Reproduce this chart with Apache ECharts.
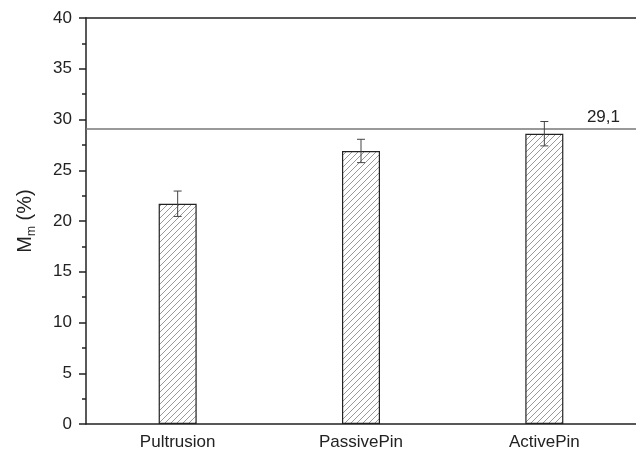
<!DOCTYPE html>
<html>
<head>
<meta charset="utf-8">
<script src="https://cdn.jsdelivr.net/npm/echarts@6/dist/echarts.min.js"></script>
<style>html,body{margin:0;padding:0;background:#fff}#c{width:636px;height:454px}</style>
</head>
<body>
<div id="c"></div>
<script>
var categories = ['Pultrusion', 'PassivePin', 'ActivePin'];
var values = [21.7, 26.9, 28.6];
var errors = [1.25, 1.15, 1.2];
var refValue = 29.1;
var refLabel = '29,1';
var yTicks = [0, 5, 10, 15, 20, 25, 30, 35, 40];

// hatch pattern
var pc = document.createElement('canvas');
var s = 6;
pc.width = s; pc.height = s;
var g = pc.getContext('2d');
g.fillStyle = '#fff'; g.fillRect(0, 0, s, s);
g.strokeStyle = '#999'; g.lineWidth = 1;
g.beginPath();
g.moveTo(-1, s + 1); g.lineTo(s + 1, -1);
g.moveTo(-1, 1); g.lineTo(1, -1);
g.moveTo(s - 1, s + 1); g.lineTo(s + 1, s - 1);
g.stroke();

var chart = echarts.init(document.getElementById('c'));
var font = 'Arial, "Liberation Sans", sans-serif';
chart.setOption({
  animation: false,
  textStyle: {fontFamily: font},
  grid: {left: 86, right: -2, top: 18, bottom: 30},
  xAxis: [{
    type: 'category', data: categories, position: 'bottom',
    axisLine: {lineStyle: {color: '#222', width: 1.5}},
    axisTick: {alignWithLabel: true, length: 7, lineStyle: {color: '#222', width: 1.5}},
    axisLabel: {color: '#222', fontSize: 17, margin: 10, fontFamily: font}
  }, {
    type: 'category', data: categories, position: 'bottom', gridIndex: 0,
    axisLine: {show: false},
    axisTick: {length: 4, lineStyle: {color: '#222', width: 1.5}},
    axisLabel: {show: false}
  }, {
    type: 'category', data: categories, position: 'top',
    axisLine: {lineStyle: {color: '#222', width: 1.5}},
    axisTick: {show: false}, axisLabel: {show: false}
  }],
  yAxis: {
    type: 'value', min: yTicks[0], max: yTicks[yTicks.length - 1], interval: 5,
    axisLine: {show: true, lineStyle: {color: '#222', width: 1.5}},
    axisTick: {show: true, length: 7, lineStyle: {color: '#222', width: 1.5}},
    minorTick: {show: true, splitNumber: 2, length: 4, lineStyle: {color: '#222', width: 1.5}},
    splitLine: {show: false},
    axisLabel: {color: '#222', fontSize: 17, margin: 14, fontFamily: font},
    name: '{a|M}{b|m}{a| (%)}',
    nameLocation: 'middle', nameRotate: 90, nameGap: 48,
    nameTextStyle: {
      rich: {
        a: {fontSize: 20, color: '#222', fontFamily: font},
        b: {fontSize: 12, color: '#222', fontFamily: font, verticalAlign: 'bottom', padding: [14, 0, 0, 0]}
      }
    }
  },
  series: [{
    type: 'bar', data: values, barWidth: 38, xAxisIndex: 0,
    itemStyle: {color: {image: pc, repeat: 'repeat'}, borderColor: '#222', borderWidth: 1.2},
    markLine: {
      silent: true, symbol: 'none', animation: false,
      lineStyle: {color: '#777', width: 1.5, type: 'solid'},
      label: {show: true, formatter: refLabel, position: 'insideEndTop', color: '#222', fontSize: 17, fontFamily: font, padding: [0, 13, 0, 0], distance: 3},
      data: [{yAxis: refValue}]
    }
  }, {
    type: 'custom', xAxisIndex: 0,
    data: values.map(function (v, i) { return [i, v, errors[i]]; }),
    renderItem: function (params, api) {
      var x = api.value(0), v = api.value(1), e = api.value(2);
      var hi = api.coord([x, v + e]), lo = api.coord([x, v - e]);
      var w = 4;
      var st = {stroke: '#444', lineWidth: 1};
      return {type: 'group', children: [
        {type: 'line', shape: {x1: hi[0], y1: hi[1], x2: lo[0], y2: lo[1]}, style: st},
        {type: 'line', shape: {x1: hi[0] - w, y1: hi[1], x2: hi[0] + w, y2: hi[1]}, style: st},
        {type: 'line', shape: {x1: lo[0] - w, y1: lo[1], x2: lo[0] + w, y2: lo[1]}, style: st}
      ]};
    },
    z: 10
  }]
});
</script>
</body>
</html>
